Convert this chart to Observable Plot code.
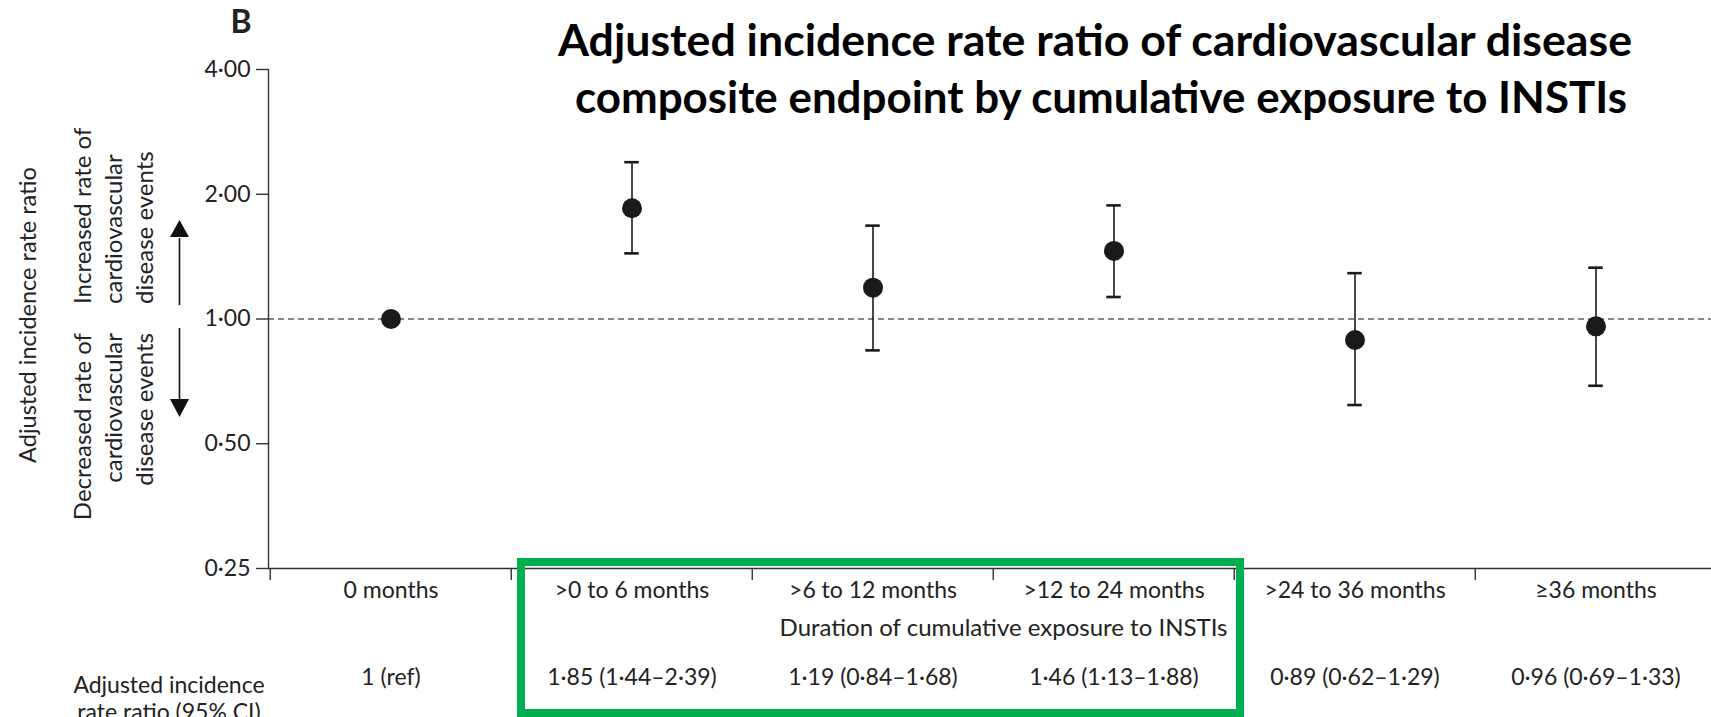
<!DOCTYPE html>
<html>
<head>
<meta charset="utf-8">
<script src="https://cdn.jsdelivr.net/npm/d3@7"></script>
<script src="https://cdn.jsdelivr.net/npm/@observablehq/plot@0.6"></script>
<style>
  html, body { margin: 0; padding: 0; background: #fff; }
  #wrap { position: relative; width: 1711px; height: 717px; overflow: hidden; font-family: Lato, sans-serif; }
  #wrap > svg.overlay { position: absolute; left: 0; top: 0; pointer-events: none; }
</style>
</head>
<body>
<div id="wrap"></div>
<script>
// ---- data ----
const categories = ["0 months", ">0 to 6 months", ">6 to 12 months", ">12 to 24 months", ">24 to 36 months", "≥36 months"];
const estimates  = [1, 1.85, 1.19, 1.46, 0.89, 0.96];
const lowerCI    = [null, 1.44, 0.84, 1.13, 0.62, 0.69];
const upperCI    = [null, 2.39, 1.68, 1.88, 1.29, 1.33];
const tableLabels = ["1 (ref)", "1·85 (1·44–2·39)", "1·19 (0·84–1·68)", "1·46 (1·13–1·88)", "0·89 (0·62–1·29)", "0·96 (0·69–1·33)"];
const yTicks = [0.25, 0.5, 1, 2, 4];
const referenceValue = 1;
const titleLines = ["Adjusted incidence rate ratio of cardiovascular disease", "composite endpoint by cumulative exposure to INSTIs"];
const xAxisLabel = "Duration of cumulative exposure to INSTIs";
const yAxisLabel = "Adjusted incidence rate ratio";
const upLabels = ["Increased rate of", "cardiovascular", "disease events"];
const downLabels = ["Decreased rate of", "cardiovascular", "disease events"];
const rowLabel = ["Adjusted incidence", "rate ratio (95% CI)"];
const panelLetter = "B";

// ---- table for Plot ----
const rows = categories.map((c, i) => ({cat: c, est: estimates[i], lo: lowerCI[i], hi: upperCI[i], label: tableLabels[i]}));
const ciRows = rows.filter(d => d.lo != null);

const W = 1711, H = 717;
const xRange = [268, 1717];
const bw = (xRange[1] - xRange[0]) / categories.length;
const ink = "#222";
const axisInk = "#333";
const fmt = d => d.toFixed(2).replace(".", "·");
const capInset = (bw - 15) / 2;

const chart = Plot.plot({
  width: W, height: H,
  marginTop: 69, marginBottom: 149, marginLeft: 268, marginRight: 0,
  style: {fontFamily: "Lato, sans-serif", color: ink, background: "transparent", overflow: "visible"},
  x: {domain: categories, range: xRange, padding: 0},
  y: {type: "log", base: 2, domain: [0.25, 4]},
  marks: [
    Plot.ruleY([referenceValue], {stroke: "#4f6470", strokeWidth: 1.3, strokeDasharray: "6,4"}),
    Plot.frame({anchor: "left", stroke: axisInk, strokeWidth: 1.4}),
    Plot.ruleY([0.25], {stroke: axisInk, strokeWidth: 1.4}),
    Plot.axisY({ticks: yTicks, tickFormat: fmt, tickSize: 12, tickPadding: 6, fontSize: 23, label: null, stroke: axisInk, strokeWidth: 1.4, fill: ink}),
    Plot.axisX({tickSize: 12, tickFormat: () => "", dx: -bw / 2, label: null, stroke: axisInk, strokeWidth: 1.4}),
    Plot.text(categories, {x: d => d, frameAnchor: "bottom", dy: 29, fontSize: 23, fill: ink}),
    Plot.text([xAxisLabel], {frameAnchor: "bottom", dx: 13.5, dy: 67, fontSize: 24, fill: ink}),
    Plot.text(rows, {x: "cat", text: "label", frameAnchor: "bottom", dy: 116, fontSize: 23, fill: ink}),
    Plot.ruleX(ciRows, {x: "cat", y1: "lo", y2: "hi", stroke: "#1a1a1a", strokeWidth: 1.6}),
    Plot.tickY(ciRows, {x: "cat", y: "lo", insetLeft: capInset, insetRight: capInset, stroke: "#1a1a1a", strokeWidth: 2.6}),
    Plot.tickY(ciRows, {x: "cat", y: "hi", insetLeft: capInset, insetRight: capInset, stroke: "#1a1a1a", strokeWidth: 2.6}),
    Plot.dot(rows, {x: "cat", y: "est", r: 10, fill: "#1a1a1a", stroke: "none"})
  ]
});
document.getElementById("wrap").appendChild(chart);

// ---- annotations overlay ----
const ov = d3.select("#wrap").append("svg").attr("class", "overlay").attr("width", W).attr("height", H)
  .attr("font-family", "Lato, sans-serif").attr("fill", ink);

// title
const titleSpec = [{x: 1095, y: 56, len: 1074}, {x: 1101, y: 113, len: 1052}];
titleLines.forEach((t, i) => {
  ov.append("text").attr("x", titleSpec[i].x).attr("y", titleSpec[i].y).attr("text-anchor", "middle")
    .attr("font-weight", 700).attr("font-size", 43).attr("fill", "#000")
    .attr("textLength", titleSpec[i].len).attr("lengthAdjust", "spacingAndGlyphs").text(t);
});
// panel letter
ov.append("text").attr("x", 241).attr("y", 33).attr("text-anchor", "middle")
  .attr("font-weight", 700).attr("font-size", 32).text(panelLetter);

// y axis label (baseline on the right when rotated)
ov.append("text").attr("transform", "translate(36,315) rotate(-90)").attr("text-anchor", "middle")
  .attr("font-size", 23.5).text(yAxisLabel);
const colX = [91, 122, 153];
upLabels.forEach((t, i) => {
  ov.append("text").attr("transform", `translate(${colX[i]},304) rotate(-90)`).attr("text-anchor", "start")
    .attr("font-size", 24).text(t);
});
downLabels.forEach((t, i) => {
  ov.append("text").attr("transform", `translate(${colX[i]},333) rotate(-90)`).attr("text-anchor", "end")
    .attr("font-size", 24).text(t);
});
// arrows
ov.append("line").attr("x1", 179.5).attr("x2", 179.5).attr("y1", 305).attr("y2", 238).attr("stroke", "#111").attr("stroke-width", 1.6);
ov.append("path").attr("d", "M179.5,220 L170,237 L189,237 Z").attr("fill", "#111");
ov.append("line").attr("x1", 179.5).attr("x2", 179.5).attr("y1", 328).attr("y2", 400).attr("stroke", "#111").attr("stroke-width", 1.6);
ov.append("path").attr("d", "M179.5,417 L170,399 L189,399 Z").attr("fill", "#111");

// row label
rowLabel.forEach((t, i) => {
  ov.append("text").attr("x", 169).attr("y", 684 + i * 27).attr("text-anchor", "middle")
    .attr("dominant-baseline", "central").attr("font-size", 23).text(t);
});

// green highlight box
ov.append("rect").attr("x", 521).attr("y", 562).attr("width", 719).attr("height", 151)
  .attr("fill", "none").attr("stroke", "#00b050").attr("stroke-width", 8);
</script>
</body>
</html>
